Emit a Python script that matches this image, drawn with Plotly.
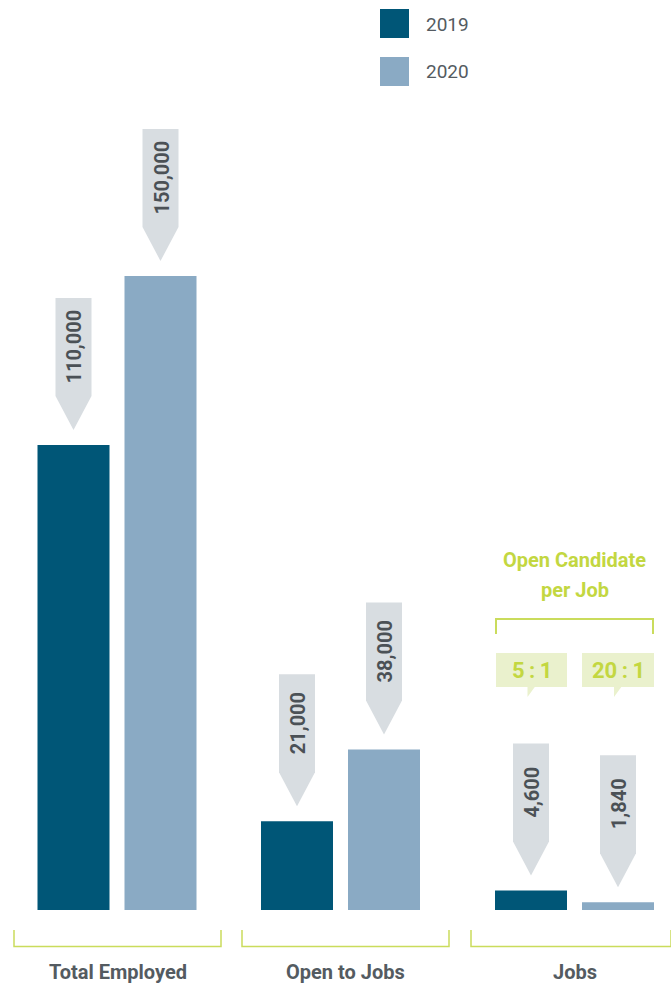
import plotly.graph_objects as go

# ---- data ----
categories = ["Total Employed", "Open to Jobs", "Jobs"]
years = ["2019", "2020"]
values_2019 = [110000, 21000, 4600]
values_2020 = [150000, 38000, 1840]
labels_2019 = ["110,000", "21,000", "4,600"]
labels_2020 = ["150,000", "38,000", "1,840"]
ratio_title = ["Open Candidate", "per Job"]
ratio_labels = ["5\u2009:\u20091", "20\u2009:\u20091"]

# ---- styles / layout constants ----
W, H = 671, 984
C2019 = "#005677"
C2020 = "#8aaac4"
ARROW = "#d8dde1"
ARROW_TXT = "#4b5156"
LABEL_TXT = "#545b61"
GREEN = "#c3d741"
GREEN_LINE = "#cadc5c"
GREEN_BOX = "#eaf1cd"
FONT = "Roboto, Liberation Sans, sans-serif"

BASE_PX = 910
U = 150000 / 634.0          # data units per pixel
group_centers = [117, 340.5, 574.5]
offset = 43.5
bar_w = 72


def py(p):  # pixel row -> paper y
    return 1 - p / H


fig = go.Figure()
x19 = [c - offset for c in group_centers]
x20 = [c + offset for c in group_centers]
fig.add_trace(go.Bar(x=x19, y=values_2019, width=bar_w, marker=dict(color=C2019, line=dict(width=0)),
                     name=years[0], showlegend=False, hoverinfo="skip"))
fig.add_trace(go.Bar(x=x20, y=values_2020, width=bar_w, marker=dict(color=C2020, line=dict(width=0)),
                     name=years[1], showlegend=False, hoverinfo="skip"))

shapes = []
annots = []

# arrow callouts
for xs, vals, labs in [(x19, values_2019, labels_2019), (x20, values_2020, labels_2020)]:
    for x, v, lab in zip(xs, vals, labs):
        tip = v + 15 * U
        sh = tip + 34 * U
        top = tip + 132 * U
        hw = 18
        path = f"M {x-hw},{top} L {x+hw},{top} L {x+hw},{sh} L {x},{tip} L {x-hw},{sh} Z"
        shapes.append(dict(type="path", path=path, xref="x", yref="y", fillcolor=ARROW,
                           line=dict(width=0), layer="above"))
        annots.append(dict(x=x + 1, y=(sh + top) / 2, xref="x", yref="y", text=lab, showarrow=False,
                           textangle=-90, font=dict(family=FONT, size=20, color=ARROW_TXT, weight="bold"),
                           xanchor="center", yanchor="middle"))

# legend
for i, (yr, col) in enumerate(zip(years, [C2019, C2020])):
    top_px = 9 + i * 48
    shapes.append(dict(type="rect", xref="x", yref="paper", x0=380, x1=409,
                       y0=py(top_px + 29), y1=py(top_px), fillcolor=col, line=dict(width=0)))
    annots.append(dict(x=424, y=py(top_px + 15), xref="x", yref="paper", text=yr, showarrow=False,
                       xanchor="left", yanchor="middle",
                       font=dict(family=FONT, size=19, color=LABEL_TXT)))

# bottom brackets + category labels
bracket_spans = [(14, 221), (242, 449), (471, 671)]
for (a, b), c, cat in zip(bracket_spans, group_centers, categories):
    path = f"M {a},{py(930)} L {a},{py(946.5)} L {b},{py(946.5)} L {b},{py(930)}"
    shapes.append(dict(type="path", path=path, xref="x", yref="paper",
                       line=dict(color=GREEN_LINE, width=1.5)))
    annots.append(dict(x=(a + b) / 2 if b < W else c, y=py(972), xref="x", yref="paper", text=cat,
                       showarrow=False, xanchor="center", yanchor="middle",
                       font=dict(family=FONT, size=20, color=LABEL_TXT, weight="bold")))

# ratio callouts
annots.append(dict(x=574.5, y=py(560), xref="x", yref="paper", text=ratio_title[0], showarrow=False,
                   xanchor="center", yanchor="middle",
                   font=dict(family=FONT, size=20, color=GREEN, weight="bold")))
annots.append(dict(x=574.5, y=py(590), xref="x", yref="paper", text=ratio_title[1], showarrow=False,
                   xanchor="center", yanchor="middle",
                   font=dict(family=FONT, size=20, color=GREEN, weight="bold")))
shapes.append(dict(type="path", xref="x", yref="paper",
                   path=f"M 496,{py(634)} L 496,{py(619)} L 653,{py(619)} L 653,{py(634)}",
                   line=dict(color=GREEN_LINE, width=2)))
box_spans = [(496, 567), (582, 654)]
for (a, b), txt in zip(box_spans, ratio_labels):
    shapes.append(dict(type="rect", xref="x", yref="paper", x0=a, x1=b, y0=py(687), y1=py(653),
                       fillcolor=GREEN_BOX, line=dict(width=0)))
    t = (a + b) / 2 - 4
    shapes.append(dict(type="path", xref="x", yref="paper",
                       path=f"M {t},{py(686)} L {t+8},{py(686)} L {t},{py(697)} Z",
                       fillcolor=GREEN_BOX, line=dict(width=0)))
    annots.append(dict(x=(a + b) / 2, y=py(670), xref="x", yref="paper", text=txt, showarrow=False,
                       xanchor="center", yanchor="middle",
                       font=dict(family=FONT, size=22, color=GREEN, weight="bold")))

fig.update_layout(
    width=W, height=H, margin=dict(l=0, r=0, t=0, b=0),
    paper_bgcolor="white", plot_bgcolor="white",
    xaxis=dict(range=[0, W], visible=False, fixedrange=True),
    yaxis=dict(range=[-(H - BASE_PX) * U, BASE_PX * U], visible=False, fixedrange=True),
    barmode="overlay", shapes=shapes, annotations=annots, showlegend=False,
)
fig.write_html("out.html")
